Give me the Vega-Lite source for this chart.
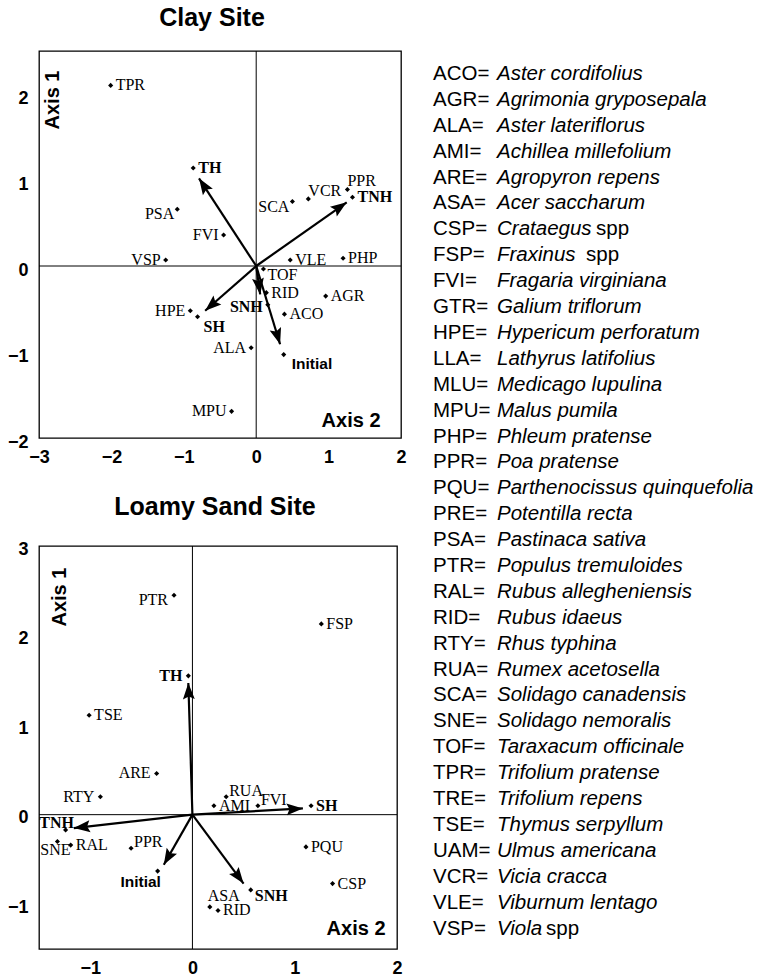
{
  "$schema": "https://vega.github.io/schema/vega-lite/v6.json",
  "padding": {"left": 6, "top": 4, "right": 0, "bottom": 0},
  "background": "white",
  "config": {
    "view": {"stroke": "black", "strokeWidth": 1.3},
    "axis": {"ticks": false, "domain": false, "grid": false, "format": "d", "labelFont": "Liberation Sans", "labelFontWeight": "bold", "labelFontSize": 18, "labelColor": "black", "labelPadding": 10, "labelFlush": false, "labelOverlap": false},
    "title": {"font": "Liberation Sans", "fontWeight": "bold", "fontSize": 25, "color": "black", "frame": "group", "baseline": "alphabetic", "offset": 20},
    "text": {"color": "black"}
  },
  "datasets": {
    "clay": [
      {"code": "TPR", "x": -2.01, "y": 2.10},
      {"code": "TH", "x": -0.87, "y": 1.14},
      {"code": "PPR", "x": 1.26, "y": 0.89},
      {"code": "TNH", "x": 1.33, "y": 0.80},
      {"code": "VCR", "x": 0.72, "y": 0.78},
      {"code": "SCA", "x": 0.50, "y": 0.75},
      {"code": "PSA", "x": -1.09, "y": 0.66},
      {"code": "FVI", "x": -0.45, "y": 0.36},
      {"code": "VSP", "x": -1.25, "y": 0.07},
      {"code": "VLE", "x": 0.47, "y": 0.07},
      {"code": "PHP", "x": 1.20, "y": 0.09},
      {"code": "TOF", "x": 0.10, "y": -0.035},
      {"code": "RID", "x": 0.14, "y": -0.31},
      {"code": "AGR", "x": 0.96, "y": -0.35},
      {"code": "SNH", "x": 0.16, "y": -0.45},
      {"code": "HPE", "x": -0.91, "y": -0.52},
      {"code": "SH", "x": -0.81, "y": -0.59},
      {"code": "ACO", "x": 0.39, "y": -0.56},
      {"code": "ALA", "x": -0.07, "y": -0.95},
      {"code": "Initial", "x": 0.38, "y": -1.03},
      {"code": "MPU", "x": -0.34, "y": -1.69}
    ],
    "clayArrows": [
      {"code": "TH", "x": -0.79, "y": 1.02},
      {"code": "TNH", "x": 1.25, "y": 0.74},
      {"code": "SH", "x": -0.705, "y": -0.52},
      {"code": "SNH", "x": 0.055, "y": -0.33},
      {"code": "Initial", "x": 0.33, "y": -0.91}
    ],
    "loamy": [
      {"code": "PTR", "x": -0.18, "y": 2.45},
      {"code": "FSP", "x": 1.26, "y": 2.13},
      {"code": "TH", "x": -0.04, "y": 1.55},
      {"code": "TSE", "x": -1.01, "y": 1.11},
      {"code": "ARE", "x": -0.35, "y": 0.46},
      {"code": "RTY", "x": -0.90, "y": 0.20},
      {"code": "RUA", "x": 0.33, "y": 0.20},
      {"code": "AMI", "x": 0.21, "y": 0.10},
      {"code": "FVI", "x": 0.64, "y": 0.10},
      {"code": "SH", "x": 1.16, "y": 0.10},
      {"code": "TNH", "x": -1.24, "y": -0.17},
      {"code": "SNE", "x": -1.32, "y": -0.30},
      {"code": "RAL", "x": -1.19, "y": -0.34},
      {"code": "PPR", "x": -0.60, "y": -0.375},
      {"code": "PQU", "x": 1.11, "y": -0.36},
      {"code": "Initial", "x": -0.34, "y": -0.63},
      {"code": "CSP", "x": 1.37, "y": -0.77},
      {"code": "SNH", "x": 0.57, "y": -0.84},
      {"code": "ASA", "x": 0.17, "y": -1.03},
      {"code": "RID", "x": 0.25, "y": -1.07}
    ],
    "loamyArrows": [
      {"code": "TH", "x": -0.04, "y": 1.47},
      {"code": "SH", "x": 1.08, "y": 0.07},
      {"code": "TNH", "x": -1.16, "y": -0.15},
      {"code": "Initial", "x": -0.28, "y": -0.56},
      {"code": "SNH", "x": 0.50, "y": -0.77}
    ],
    "species": [
      {"code": "ACO", "name": "Aster cordifolius"},
      {"code": "AGR", "name": "Agrimonia gryposepala"},
      {"code": "ALA", "name": "Aster lateriflorus"},
      {"code": "AMI", "name": "Achillea millefolium"},
      {"code": "ARE", "name": "Agropyron repens"},
      {"code": "ASA", "name": "Acer saccharum"},
      {"code": "CSP", "name": "Crataegus", "suffix": "spp"},
      {"code": "FSP", "name": "Fraxinus", "suffix": "spp"},
      {"code": "FVI", "name": "Fragaria virginiana"},
      {"code": "GTR", "name": "Galium triflorum"},
      {"code": "HPE", "name": "Hypericum perforatum"},
      {"code": "LLA", "name": "Lathyrus latifolius"},
      {"code": "MLU", "name": "Medicago lupulina"},
      {"code": "MPU", "name": "Malus pumila"},
      {"code": "PHP", "name": "Phleum pratense"},
      {"code": "PPR", "name": "Poa pratense"},
      {"code": "PQU", "name": "Parthenocissus quinquefolia"},
      {"code": "PRE", "name": "Potentilla recta"},
      {"code": "PSA", "name": "Pastinaca sativa"},
      {"code": "PTR", "name": "Populus tremuloides"},
      {"code": "RAL", "name": "Rubus allegheniensis"},
      {"code": "RID", "name": "Rubus idaeus"},
      {"code": "RTY", "name": "Rhus typhina"},
      {"code": "RUA", "name": "Rumex acetosella"},
      {"code": "SCA", "name": "Solidago canadensis"},
      {"code": "SNE", "name": "Solidago nemoralis"},
      {"code": "TOF", "name": "Taraxacum officinale"},
      {"code": "TPR", "name": "Trifolium pratense"},
      {"code": "TRE", "name": "Trifolium repens"},
      {"code": "TSE", "name": "Thymus serpyllum"},
      {"code": "UAM", "name": "Ulmus americana"},
      {"code": "VCR", "name": "Vicia cracca"},
      {"code": "VLE", "name": "Viburnum lentago"},
      {"code": "VSP", "name": "Viola", "suffix": "spp"}
    ]
  },
  "spacing": 25,
  "hconcat": [
    {
      "spacing": 27,
      "vconcat": [
        {
          "width": 362,
          "height": 387,
          "title": {"text": "Clay Site", "dx": -8},
          "layer": [
            {"data": {"values": [{}]}, "mark": {"type": "rule", "color": "black", "strokeWidth": 1}, "encoding": {"x": {"datum": 0, "type": "quantitative", "scale": {"domain": [-3, 2], "nice": false, "zero": false}, "axis": {"values": [-3, -2, -1, 0, 1, 2], "title": null}}}},
            {"data": {"values": [{}]}, "mark": {"type": "rule", "color": "black", "strokeWidth": 1}, "encoding": {"y": {"datum": 0, "type": "quantitative", "scale": {"domain": [-2, 2.5], "nice": false, "zero": false}, "axis": {"values": [-2, -1, 0, 1, 2], "title": null, "labelOffset": 4, "labelPadding": 11}}}},
            {"data": {"name": "clayArrows"}, "mark": {"type": "rule", "color": "black", "strokeWidth": 2.2}, "encoding": {"x": {"field": "x", "type": "quantitative", "title": null}, "y": {"field": "y", "type": "quantitative", "title": null}, "x2": {"datum": 0}, "y2": {"datum": 0}}},
            {"data": {"name": "clayArrows"}, "transform": [{"calculate": "atan2(datum.x*72.4, datum.y*86)*180/PI", "as": "ang"}], "mark": {"type": "point", "shape": "M0,0L-0.42,1.15L0,0.95L0.42,1.15Z", "filled": true, "color": "black", "opacity": 1, "size": 800}, "encoding": {"x": {"field": "x", "type": "quantitative", "title": null}, "y": {"field": "y", "type": "quantitative", "title": null}, "angle": {"field": "ang", "type": "quantitative", "scale": null}}},
            {"data": {"name": "clay"}, "mark": {"type": "point", "shape": "diamond", "filled": true, "color": "black", "opacity": 1, "size": 26}, "encoding": {"x": {"field": "x", "type": "quantitative", "title": null}, "y": {"field": "y", "type": "quantitative", "title": null}}},
            {"data": {"name": "clay"}, "transform": [{"filter": {"field": "code", "oneOf": ["TPR", "RID", "AGR", "ACO", "VLE", "PHP"]}}], "mark": {"type": "text", "align": "left", "baseline": "middle", "dx": 5, "font": "Liberation Serif", "fontSize": 16}, "encoding": {"x": {"field": "x", "type": "quantitative", "title": null}, "y": {"field": "y", "type": "quantitative", "title": null}, "text": {"field": "code"}}},
            {"data": {"name": "clay"}, "transform": [{"filter": {"field": "code", "oneOf": ["PPR", "VCR"]}}], "mark": {"type": "text", "align": "left", "baseline": "middle", "dx": 0, "dy": -8, "font": "Liberation Serif", "fontSize": 16}, "encoding": {"x": {"field": "x", "type": "quantitative", "title": null}, "y": {"field": "y", "type": "quantitative", "title": null}, "text": {"field": "code"}}},
            {"data": {"name": "clay"}, "transform": [{"filter": {"field": "code", "oneOf": ["TOF"]}}], "mark": {"type": "text", "align": "left", "baseline": "middle", "dx": 4, "dy": 6, "font": "Liberation Serif", "fontSize": 16}, "encoding": {"x": {"field": "x", "type": "quantitative", "title": null}, "y": {"field": "y", "type": "quantitative", "title": null}, "text": {"field": "code"}}},
            {"data": {"name": "clay"}, "transform": [{"filter": {"field": "code", "oneOf": ["FVI", "VSP", "ALA", "MPU", "HPE"]}}], "mark": {"type": "text", "align": "right", "baseline": "middle", "dx": -5, "font": "Liberation Serif", "fontSize": 16}, "encoding": {"x": {"field": "x", "type": "quantitative", "title": null}, "y": {"field": "y", "type": "quantitative", "title": null}, "text": {"field": "code"}}},
            {"data": {"name": "clay"}, "transform": [{"filter": {"field": "code", "oneOf": ["SCA", "PSA"]}}], "mark": {"type": "text", "align": "right", "baseline": "middle", "dx": -3, "dy": 5, "font": "Liberation Serif", "fontSize": 16}, "encoding": {"x": {"field": "x", "type": "quantitative", "title": null}, "y": {"field": "y", "type": "quantitative", "title": null}, "text": {"field": "code"}}},
            {"data": {"name": "clay"}, "transform": [{"filter": {"field": "code", "oneOf": ["TH", "TNH"]}}], "mark": {"type": "text", "align": "left", "baseline": "middle", "dx": 5, "font": "Liberation Serif", "fontWeight": "bold", "fontSize": 16}, "encoding": {"x": {"field": "x", "type": "quantitative", "title": null}, "y": {"field": "y", "type": "quantitative", "title": null}, "text": {"field": "code"}}},
            {"data": {"name": "clay"}, "transform": [{"filter": {"field": "code", "oneOf": ["SNH"]}}], "mark": {"type": "text", "align": "right", "baseline": "middle", "dx": -5, "dy": 2, "font": "Liberation Serif", "fontWeight": "bold", "fontSize": 16}, "encoding": {"x": {"field": "x", "type": "quantitative", "title": null}, "y": {"field": "y", "type": "quantitative", "title": null}, "text": {"field": "code"}}},
            {"data": {"name": "clay"}, "transform": [{"filter": {"field": "code", "oneOf": ["SH"]}}], "mark": {"type": "text", "align": "left", "baseline": "middle", "dx": 6, "dy": 10, "font": "Liberation Serif", "fontWeight": "bold", "fontSize": 16}, "encoding": {"x": {"field": "x", "type": "quantitative", "title": null}, "y": {"field": "y", "type": "quantitative", "title": null}, "text": {"field": "code"}}},
            {"data": {"name": "clay"}, "transform": [{"filter": {"field": "code", "oneOf": ["Initial"]}}], "mark": {"type": "text", "align": "left", "baseline": "middle", "dx": 8, "dy": 9, "font": "Liberation Sans", "fontWeight": "bold", "fontSize": 15.5}, "encoding": {"x": {"field": "x", "type": "quantitative", "title": null}, "y": {"field": "y", "type": "quantitative", "title": null}, "text": {"field": "code"}}},
            {"data": {"values": [{}]}, "mark": {"type": "text", "align": "center", "baseline": "middle", "angle": 270, "font": "Liberation Sans", "fontWeight": "bold", "fontSize": 20}, "encoding": {"x": {"datum": -2.81, "type": "quantitative", "title": null}, "y": {"datum": 1.93, "type": "quantitative", "title": null}, "text": {"value": "Axis 1"}}},
            {"data": {"values": [{}]}, "mark": {"type": "text", "align": "center", "baseline": "middle", "font": "Liberation Sans", "fontWeight": "bold", "fontSize": 20}, "encoding": {"x": {"datum": 1.31, "type": "quantitative", "title": null}, "y": {"datum": -1.80, "type": "quantitative", "title": null}, "text": {"value": "Axis 2"}}}
          ]
        },
        {
          "width": 358,
          "height": 403,
          "title": {"text": "Loamy Sand Site", "dx": -3},
          "layer": [
            {"data": {"values": [{}]}, "mark": {"type": "rule", "color": "black", "strokeWidth": 1}, "encoding": {"x": {"datum": 0, "type": "quantitative", "scale": {"domain": [-1.5, 2], "nice": false, "zero": false}, "axis": {"values": [-1, 0, 1, 2], "title": null}}}},
            {"data": {"values": [{}]}, "mark": {"type": "rule", "color": "black", "strokeWidth": 1}, "encoding": {"y": {"datum": 0, "type": "quantitative", "scale": {"domain": [-1.5, 3], "nice": false, "zero": false}, "axis": {"values": [-1, 0, 1, 2, 3], "title": null, "labelOffset": 3, "labelPadding": 11}}}},
            {"data": {"name": "loamyArrows"}, "mark": {"type": "rule", "color": "black", "strokeWidth": 2.2}, "encoding": {"x": {"field": "x", "type": "quantitative", "title": null}, "y": {"field": "y", "type": "quantitative", "title": null}, "x2": {"datum": 0}, "y2": {"datum": 0}}},
            {"data": {"name": "loamyArrows"}, "transform": [{"calculate": "atan2(datum.x*102.3, datum.y*89.6)*180/PI", "as": "ang"}], "mark": {"type": "point", "shape": "M0,0L-0.42,1.15L0,0.95L0.42,1.15Z", "filled": true, "color": "black", "opacity": 1, "size": 800}, "encoding": {"x": {"field": "x", "type": "quantitative", "title": null}, "y": {"field": "y", "type": "quantitative", "title": null}, "angle": {"field": "ang", "type": "quantitative", "scale": null}}},
            {"data": {"name": "loamy"}, "mark": {"type": "point", "shape": "diamond", "filled": true, "color": "black", "opacity": 1, "size": 26}, "encoding": {"x": {"field": "x", "type": "quantitative", "title": null}, "y": {"field": "y", "type": "quantitative", "title": null}}},
            {"data": {"name": "loamy"}, "transform": [{"filter": {"field": "code", "oneOf": ["FSP", "TSE", "AMI", "RAL", "PQU", "CSP", "RID"]}}], "mark": {"type": "text", "align": "left", "baseline": "middle", "dx": 5, "font": "Liberation Serif", "fontSize": 16}, "encoding": {"x": {"field": "x", "type": "quantitative", "title": null}, "y": {"field": "y", "type": "quantitative", "title": null}, "text": {"field": "code"}}},
            {"data": {"name": "loamy"}, "transform": [{"filter": {"field": "code", "oneOf": ["RUA", "FVI", "PPR"]}}], "mark": {"type": "text", "align": "left", "baseline": "middle", "dx": 3, "dy": -6, "font": "Liberation Serif", "fontSize": 16}, "encoding": {"x": {"field": "x", "type": "quantitative", "title": null}, "y": {"field": "y", "type": "quantitative", "title": null}, "text": {"field": "code"}}},
            {"data": {"name": "loamy"}, "transform": [{"filter": {"field": "code", "oneOf": ["ARE", "RTY"]}}], "mark": {"type": "text", "align": "right", "baseline": "middle", "dx": -6, "font": "Liberation Serif", "fontSize": 16}, "encoding": {"x": {"field": "x", "type": "quantitative", "title": null}, "y": {"field": "y", "type": "quantitative", "title": null}, "text": {"field": "code"}}},
            {"data": {"name": "loamy"}, "transform": [{"filter": {"field": "code", "oneOf": ["PTR"]}}], "mark": {"type": "text", "align": "right", "baseline": "middle", "dx": -6, "dy": 5, "font": "Liberation Serif", "fontSize": 16}, "encoding": {"x": {"field": "x", "type": "quantitative", "title": null}, "y": {"field": "y", "type": "quantitative", "title": null}, "text": {"field": "code"}}},
            {"data": {"name": "loamy"}, "transform": [{"filter": {"field": "code", "oneOf": ["SNE"]}}], "mark": {"type": "text", "align": "center", "baseline": "middle", "dx": -2, "dy": 8, "font": "Liberation Serif", "fontSize": 16}, "encoding": {"x": {"field": "x", "type": "quantitative", "title": null}, "y": {"field": "y", "type": "quantitative", "title": null}, "text": {"field": "code"}}},
            {"data": {"name": "loamy"}, "transform": [{"filter": {"field": "code", "oneOf": ["ASA"]}}], "mark": {"type": "text", "align": "left", "baseline": "middle", "dx": -2, "dy": -11, "font": "Liberation Serif", "fontSize": 16}, "encoding": {"x": {"field": "x", "type": "quantitative", "title": null}, "y": {"field": "y", "type": "quantitative", "title": null}, "text": {"field": "code"}}},
            {"data": {"name": "loamy"}, "transform": [{"filter": {"field": "code", "oneOf": ["TH"]}}], "mark": {"type": "text", "align": "right", "baseline": "middle", "dx": -6, "font": "Liberation Serif", "fontWeight": "bold", "fontSize": 16}, "encoding": {"x": {"field": "x", "type": "quantitative", "title": null}, "y": {"field": "y", "type": "quantitative", "title": null}, "text": {"field": "code"}}},
            {"data": {"name": "loamy"}, "transform": [{"filter": {"field": "code", "oneOf": ["SH"]}}], "mark": {"type": "text", "align": "left", "baseline": "middle", "dx": 5, "font": "Liberation Serif", "fontWeight": "bold", "fontSize": 16}, "encoding": {"x": {"field": "x", "type": "quantitative", "title": null}, "y": {"field": "y", "type": "quantitative", "title": null}, "text": {"field": "code"}}},
            {"data": {"name": "loamy"}, "transform": [{"filter": {"field": "code", "oneOf": ["SNH"]}}], "mark": {"type": "text", "align": "left", "baseline": "middle", "dx": 4, "dy": 6, "font": "Liberation Serif", "fontWeight": "bold", "fontSize": 16}, "encoding": {"x": {"field": "x", "type": "quantitative", "title": null}, "y": {"field": "y", "type": "quantitative", "title": null}, "text": {"field": "code"}}},
            {"data": {"name": "loamy"}, "transform": [{"filter": {"field": "code", "oneOf": ["TNH"]}}], "mark": {"type": "text", "align": "center", "baseline": "middle", "dx": -9, "dy": -7, "font": "Liberation Serif", "fontWeight": "bold", "fontSize": 16}, "encoding": {"x": {"field": "x", "type": "quantitative", "title": null}, "y": {"field": "y", "type": "quantitative", "title": null}, "text": {"field": "code"}}},
            {"data": {"name": "loamy"}, "transform": [{"filter": {"field": "code", "oneOf": ["Initial"]}}], "mark": {"type": "text", "align": "center", "baseline": "middle", "dx": -17, "dy": 11, "font": "Liberation Sans", "fontWeight": "bold", "fontSize": 15.5}, "encoding": {"x": {"field": "x", "type": "quantitative", "title": null}, "y": {"field": "y", "type": "quantitative", "title": null}, "text": {"field": "code"}}},
            {"data": {"values": [{}]}, "mark": {"type": "text", "align": "center", "baseline": "middle", "angle": 270, "font": "Liberation Sans", "fontWeight": "bold", "fontSize": 20}, "encoding": {"x": {"datum": -1.29, "type": "quantitative", "title": null}, "y": {"datum": 2.43, "type": "quantitative", "title": null}, "text": {"value": "Axis 1"}}},
            {"data": {"values": [{}]}, "mark": {"type": "text", "align": "center", "baseline": "middle", "font": "Liberation Sans", "fontWeight": "bold", "fontSize": 20}, "encoding": {"x": {"datum": 1.60, "type": "quantitative", "title": null}, "y": {"datum": -1.28, "type": "quantitative", "title": null}, "text": {"value": "Axis 2"}}}
          ]
        }
      ]
    },
    {
      "width": 330,
      "height": 900,
      "view": {"stroke": "transparent"},
      "data": {"name": "species"},
      "encoding": {
        "y": {"field": "code", "type": "ordinal", "sort": null, "scale": {"type": "point", "padding": 0, "range": [23, 877.5]}, "axis": null}
      },
      "layer": [
        {"transform": [{"calculate": "datum.code + '='", "as": "key"}], "mark": {"type": "text", "align": "left", "baseline": "middle", "font": "Liberation Sans", "fontSize": 20.5}, "encoding": {"x": {"value": 0}, "text": {"field": "key"}}},
        {"mark": {"type": "text", "align": "left", "baseline": "middle", "dx": 64, "font": "Liberation Sans", "fontStyle": "italic", "fontSize": 20.5}, "encoding": {"x": {"value": 0}, "text": {"field": "name"}}},
        {"transform": [{"filter": {"field": "code", "equal": "CSP"}}], "mark": {"type": "text", "align": "left", "baseline": "middle", "dx": 163, "font": "Liberation Sans", "fontSize": 20.5}, "encoding": {"x": {"value": 0}, "text": {"field": "suffix"}}},
        {"transform": [{"filter": {"field": "code", "equal": "FSP"}}], "mark": {"type": "text", "align": "left", "baseline": "middle", "dx": 153, "font": "Liberation Sans", "fontSize": 20.5}, "encoding": {"x": {"value": 0}, "text": {"field": "suffix"}}},
        {"transform": [{"filter": {"field": "code", "equal": "VSP"}}], "mark": {"type": "text", "align": "left", "baseline": "middle", "dx": 113, "font": "Liberation Sans", "fontSize": 20.5}, "encoding": {"x": {"value": 0}, "text": {"field": "suffix"}}}
      ]
    }
  ]
}
